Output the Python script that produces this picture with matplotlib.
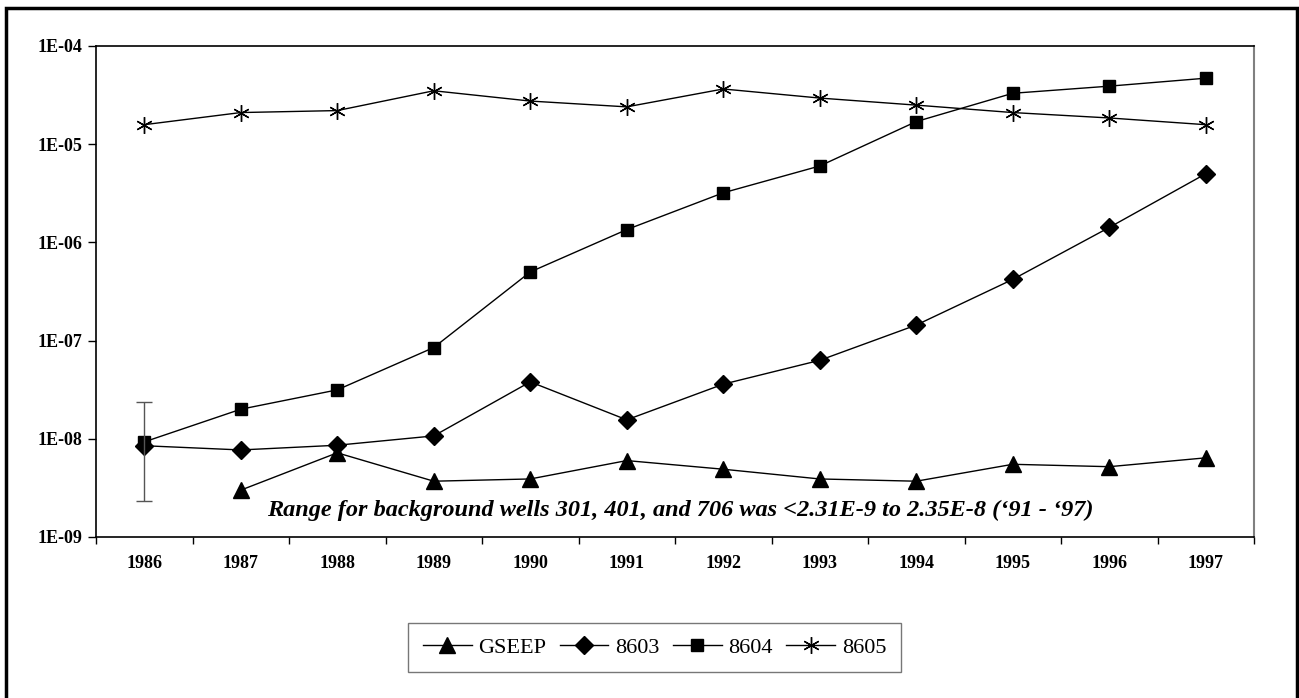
import numpy as np
import matplotlib.pyplot as plt
from matplotlib.patches import Rectangle

years = ['1986', '1987', '1988', '1989', '1990', '1991',
         '1992', '1993', '1994', '1995', '1996', '1997']

# values
gseep = [np.nan, 3.0e-9, 7.2e-9, 3.7e-9, 3.9e-9, 6.0e-9,
         4.9e-9, 3.9e-9, 3.7e-9, 5.5e-9, 5.2e-9, 6.4e-9]
w8603 = [8.5e-9, 7.7e-9, 8.6e-9, 1.07e-8, 3.8e-8, 1.56e-8,
         3.6e-8, 6.3e-8, 1.44e-7, 4.2e-7, 1.42e-6, 5.0e-6]
w8604 = [9.3e-9, 2.0e-8, 3.15e-8, 8.5e-8, 5.0e-7, 1.35e-6,
         3.2e-6, 6.0e-6, 1.7e-5, 3.3e-5, 3.9e-5, 4.7e-5]
w8605 = [1.58e-5, 2.1e-5, 2.2e-5, 3.5e-5, 2.75e-5, 2.4e-5,
         3.65e-5, 2.95e-5, 2.5e-5, 2.1e-5, 1.85e-5, 1.58e-5]

# background range shown as a bar at 1986
bg_low = 2.31e-9
bg_high = 2.35e-8

ytick_vals = [1e-9, 1e-8, 1e-7, 1e-6, 1e-5, 1e-4]
ytick_labels = ['1E-09', '1E-08', '1E-07', '1E-06', '1E-05', '1E-04']

note = "Range for background wells 301, 401, and 706 was <2.31E-9 to 2.35E-8 (\u201891 - \u201897)"

fig = plt.figure(figsize=(12.99, 6.98), dpi=100)
ax = fig.add_axes([96 / 1299, 1 - 537 / 698, 1158 / 1299, 491 / 698])

x = np.arange(len(years))
ax.plot(x, gseep, color='black', lw=1, marker='^', ms=11, mfc='black', label='GSEEP')
ax.plot(x, w8603, color='black', lw=1, marker='D', ms=9, mfc='black', label='8603')
ax.plot(x, w8604, color='black', lw=1, marker='s', ms=9, mfc='black', label='8604')
ax.plot(x, w8605, color='black', lw=1, marker=(6, 2, 0), ms=12, mew=1, label='8605')

mid = np.sqrt(bg_low * bg_high)
ax.errorbar([0], [mid], yerr=[[mid - bg_low], [bg_high - mid]], fmt='none',
            ecolor='#555555', elinewidth=1, capsize=6, capthick=1)

ax.set_yscale('log')
ax.set_ylim(1e-9, 1e-4)
ax.set_xlim(-0.5, len(years) - 0.5)
ax.set_yticks(ytick_vals)
ax.set_yticklabels(ytick_labels)
ax.minorticks_off()
ax.set_xticks(x)
ax.set_xticklabels(years)
ax.set_xticks(np.arange(-0.5, len(years), 1), minor=True)
ax.tick_params(axis='x', which='major', length=0, pad=13)
ax.tick_params(axis='x', which='minor', length=5, direction='out', width=1)
ax.tick_params(axis='y', which='major', length=6, direction='out', width=1, pad=4)
for lab in ax.get_xticklabels() + ax.get_yticklabels():
    lab.set_family('Liberation Serif')
    lab.set_fontsize(13)
    lab.set_fontweight('bold')

for s in ['left', 'bottom', 'top']:
    ax.spines[s].set_color('black')
    ax.spines[s].set_linewidth(1.2)
ax.spines['right'].set_color('#808080')
ax.spines['right'].set_linewidth(1.5)

ax.text(680 / 1299, 1 - 510 / 698, note, transform=fig.transFigure,
        ha='center', va='center', family='Liberation Serif',
        fontsize=17.5, fontweight='bold', fontstyle='italic')

leg = fig.legend(loc='center', bbox_to_anchor=(654.5 / 1299, 1 - 647.5 / 698),
                 ncol=4, frameon=True, fancybox=False, handlelength=2.2,
                 handletextpad=0.3, columnspacing=0.6, borderpad=0.65,
                 prop={'family': 'Liberation Serif', 'size': 16})
leg.get_frame().set_edgecolor('#555555')
leg.get_frame().set_linewidth(1)

# outer chart border
fig.patches.append(Rectangle((6 / 1299, -0.01), 1291 / 1299, 1 - 8 / 698 + 0.01,
                             transform=fig.transFigure, fill=False,
                             edgecolor='black', linewidth=2.5))

fig.savefig('out.png', dpi=100)
